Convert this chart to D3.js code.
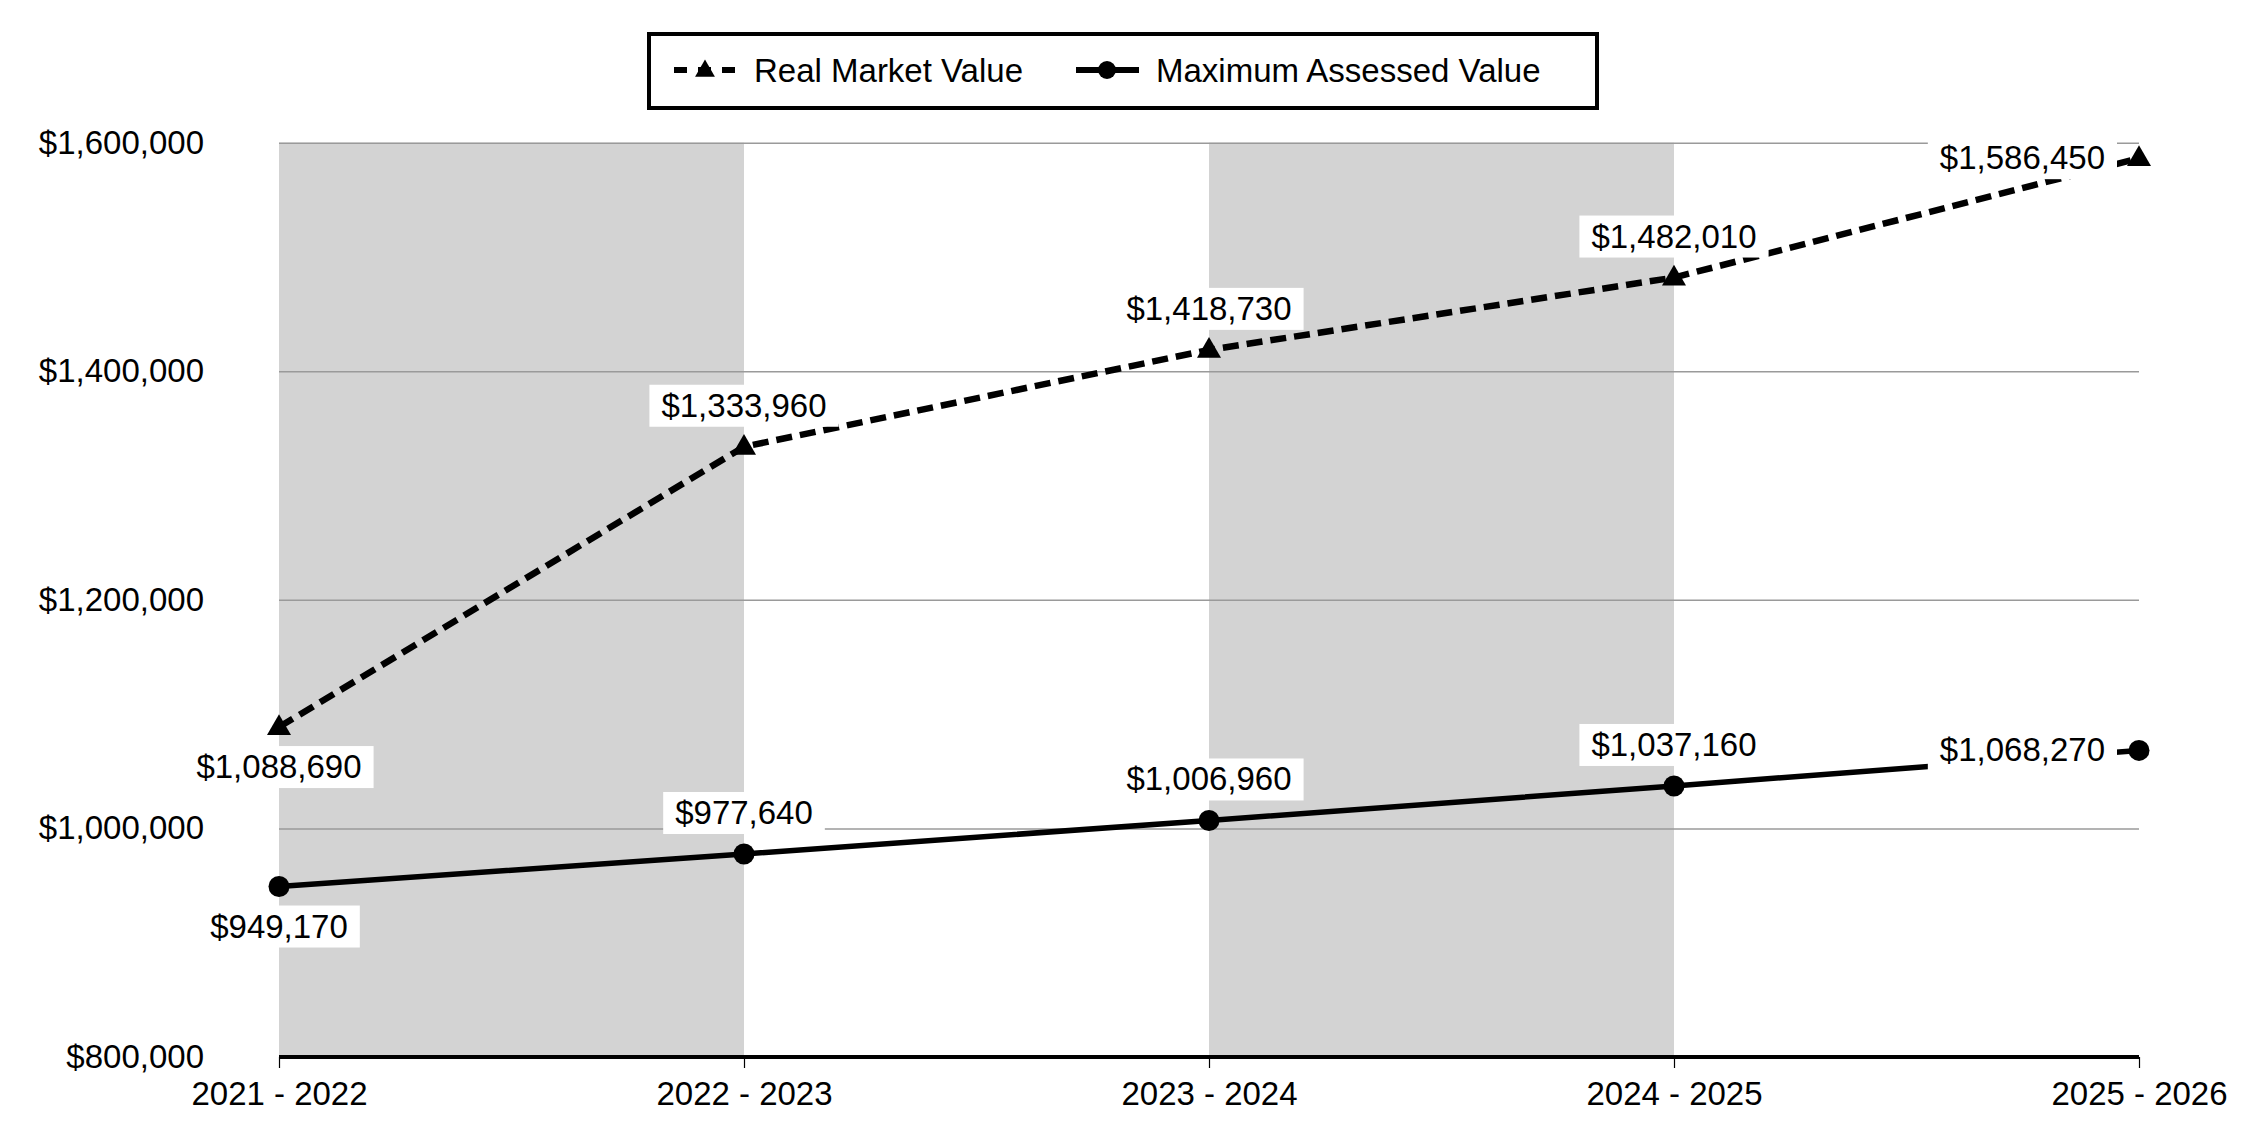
<!DOCTYPE html>
<html>
<head>
<meta charset="utf-8">
<script src="https://cdn.jsdelivr.net/npm/d3@7/dist/d3.min.js"></script>
<style>
  body { margin: 0; background: #fff; }
  svg { display: block; font-family: "Liberation Sans", Arial, sans-serif; }
</style>
</head>
<body>
<svg id="chart" width="2250" height="1140"></svg>
<script>
const categories = ["2021 - 2022", "2022 - 2023", "2023 - 2024", "2024 - 2025", "2025 - 2026"];
const realMarketValue = [1088690, 1333960, 1418730, 1482010, 1586450];
const maxAssessedValue = [949170, 977640, 1006960, 1037160, 1068270];
const yTickValues = [800000, 1000000, 1200000, 1400000, 1600000];
const seriesNames = ["Real Market Value", "Maximum Assessed Value"];

(function () {
const svg = d3.select("#chart");
const pLeft = 279, pRight = 2139, pTop = 142.7, pBottom = 1057;
const fontSize = 33;

const x = d3.scalePoint().domain(categories).range([pLeft, pRight]);
const y = d3.scaleLinear().domain([800000, 1600000]).range([pBottom, pTop]);
const fmt = d3.format("$,");

// alternating shaded bands
const bands = svg.append("g");
categories.forEach((c, i) => {
  if (i % 2 === 0 && i < categories.length - 1) {
    bands.append("rect")
      .attr("x", x(categories[i])).attr("y", pTop)
      .attr("width", x(categories[i + 1]) - x(categories[i]))
      .attr("height", pBottom - pTop)
      .attr("fill", "#d3d3d3");
  }
});

// gridlines
const grid = svg.append("g").attr("transform", `translate(${pLeft},0)`)
  .call(d3.axisLeft(y).tickValues(yTickValues.filter(v => v !== 800000)).tickSize(-(pRight - pLeft)).tickFormat(""));
grid.select(".domain").remove();
grid.selectAll(".tick line").attr("stroke", "#9a9a9a").attr("stroke-width", 1.5);

// y axis labels
const yAxis = svg.append("g").attr("transform", `translate(${pLeft},0)`)
  .call(d3.axisLeft(y).tickValues(yTickValues).tickSize(0).tickPadding(75).tickFormat(fmt));
yAxis.select(".domain").remove();
yAxis.selectAll("text").attr("font-size", fontSize).attr("fill", "#000")
  .attr("font-family", '"Liberation Sans", Arial, sans-serif');

// x axis
const xAxis = svg.append("g").attr("transform", `translate(0,${pBottom})`)
  .call(d3.axisBottom(x).tickSize(11).tickPadding(14));
xAxis.select(".domain").attr("stroke", "#000").attr("stroke-width", 4)
  .attr("d", `M${pLeft},0H${pRight}`);
xAxis.selectAll(".tick line").attr("stroke", "#000").attr("stroke-width", 1.2);
xAxis.selectAll("text").attr("font-size", fontSize).attr("fill", "#000")
  .attr("font-family", '"Liberation Sans", Arial, sans-serif');

// lines
const line = d3.line().x((d, i) => x(categories[i])).y(d => y(d));
svg.append("path").datum(maxAssessedValue).attr("d", line)
  .attr("fill", "none").attr("stroke", "#000").attr("stroke-width", 5.5);
svg.append("path").datum(realMarketValue).attr("d", line)
  .attr("fill", "none").attr("stroke", "#000").attr("stroke-width", 6.5)
  .attr("stroke-dasharray", "16,8");

// data labels
function labels(values) {
  const g = svg.append("g");
  values.forEach((v, i) => {
    const px = x(categories[i]), py = y(v);
    const lg = g.append("g");
    const rect = lg.append("rect").attr("fill", "#fff");
    const t = lg.append("text").text(fmt(v)).attr("font-size", fontSize).attr("fill", "#000");
    const w = t.node().getComputedTextLength();
    const padX = 12, h = 42;
    let bx, by;
    if (i === values.length - 1) {
      bx = px - 22 - w - 2 * padX; by = py - h / 2;
    } else if (i === 0) {
      bx = px - (w + 2 * padX) / 2; by = py + 19;
    } else {
      bx = px - (w + 2 * padX) / 2; by = py - 20 - h;
    }
    rect.attr("x", bx).attr("y", by).attr("width", w + 2 * padX).attr("height", h);
    t.attr("x", bx + padX).attr("y", by + 32);
  });
}
labels(realMarketValue);
labels(maxAssessedValue);

// markers
const tri = d3.symbol().type(d3.symbolTriangle).size(250);
svg.append("g").selectAll("path").data(realMarketValue).join("path")
  .attr("d", tri)
  .attr("transform", (d, i) => `translate(${x(categories[i])},${y(d) + 1})`)
  .attr("fill", "#000");
svg.append("g").selectAll("circle").data(maxAssessedValue).join("circle")
  .attr("cx", (d, i) => x(categories[i])).attr("cy", d => y(d)).attr("r", 10.5)
  .attr("fill", "#000");

// legend
const lg = svg.append("g");
lg.append("rect").attr("x", 649).attr("y", 34).attr("width", 948).attr("height", 74)
  .attr("fill", "#fff").attr("stroke", "#000").attr("stroke-width", 4);
lg.append("line").attr("x1", 674).attr("x2", 737).attr("y1", 70).attr("y2", 70)
  .attr("stroke", "#000").attr("stroke-width", 6).attr("stroke-dasharray", "13,11");
lg.append("path").attr("d", d3.symbol().type(d3.symbolTriangle).size(170))
  .attr("transform", "translate(705,71)").attr("fill", "#000");
lg.append("text").attr("x", 754).attr("y", 82).attr("font-size", fontSize).text(seriesNames[0]);
lg.append("line").attr("x1", 1076).attr("x2", 1139).attr("y1", 70).attr("y2", 70)
  .attr("stroke", "#000").attr("stroke-width", 6);
lg.append("circle").attr("cx", 1107).attr("cy", 70).attr("r", 9).attr("fill", "#000");
lg.append("text").attr("x", 1156).attr("y", 82).attr("font-size", fontSize).text(seriesNames[1]);
})();
</script>
</body>
</html>
